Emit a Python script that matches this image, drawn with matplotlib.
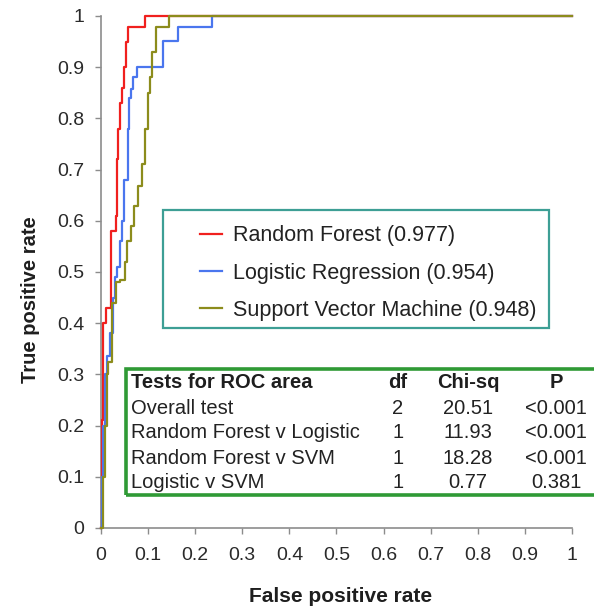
import matplotlib
matplotlib.use("Agg")
import matplotlib.pyplot as plt
from matplotlib.patches import Rectangle

# ROC curves: corners of each step (x of the vertical rise, top of the rise)
rf_fpr = [0.0, 0.002, 0.004, 0.010, 0.022, 0.032, 0.034, 0.036, 0.040, 0.045, 0.049, 0.053, 0.057, 0.093, 1.0]
rf_tpr = [0.0, 0.21, 0.40, 0.43, 0.58, 0.61, 0.72, 0.78, 0.83, 0.86, 0.90, 0.95, 0.978, 1.0, 1.0]

lr_fpr = [0.0, 0.002, 0.004, 0.008, 0.013, 0.019, 0.025, 0.030, 0.034, 0.040, 0.045, 0.049, 0.057, 0.059, 0.064, 0.068, 0.076, 0.132, 0.163, 0.236, 1.0]
lr_tpr = [0.0, 0.10, 0.20, 0.30, 0.335, 0.38, 0.45, 0.49, 0.51, 0.56, 0.60, 0.68, 0.78, 0.84, 0.857, 0.88, 0.90, 0.951, 0.978, 1.0, 1.0]

svm_fpr = [0.0, 0.004, 0.008, 0.012, 0.015, 0.023, 0.032, 0.040, 0.051, 0.055, 0.064, 0.070, 0.079, 0.087, 0.094, 0.100, 0.104, 0.108, 0.117, 0.144, 1.0]
svm_tpr = [0.0, 0.10, 0.20, 0.30, 0.325, 0.44, 0.48, 0.485, 0.52, 0.56, 0.59, 0.628, 0.667, 0.71, 0.78, 0.85, 0.88, 0.93, 0.978, 1.0, 1.0]

model_names = ["Random Forest", "Logistic Regression", "Support Vector Machine"]
model_auc = ["0.977", "0.954", "0.948"]
model_colors = ["#f0201e", "#4a76ee", "#8c8c1c"]

tick_values = [0, 0.1, 0.2, 0.3, 0.4, 0.5, 0.6, 0.7, 0.8, 0.9, 1]
tick_labels = ["0", "0.1", "0.2", "0.3", "0.4", "0.5", "0.6", "0.7", "0.8", "0.9", "1"]

table_header = ["Tests for ROC area", "df", "Chi-sq", "P"]
test_names = ["Overall test", "Random Forest v Logistic", "Random Forest v SVM", "Logistic v SVM"]
test_df = ["2", "1", "1", "1"]
test_chisq = ["20.51", "11.93", "18.28", "0.77"]
test_p = ["<0.001", "<0.001", "<0.001", "0.381"]

plt.rcParams["font.family"] = ["Liberation Sans", "DejaVu Sans"]

W, H = 594, 609
fig = plt.figure(figsize=(W / 100, H / 100), dpi=100)
fig.patch.set_facecolor("white")


def fx(px):
    return px / W


def fy(py):
    return 1 - py / H


AX_L, AX_R, AX_T, AX_B = 101, 572, 16, 528
ax = fig.add_axes([fx(AX_L), fy(AX_B), fx(AX_R) - fx(AX_L), fy(AX_T) - fy(AX_B)])
ax.set_xlim(0, 1)
ax.set_ylim(0, 1)


def ax_x(px):
    return (px - AX_L) / (AX_R - AX_L)


def ax_y(py):
    return (AX_B - py) / (AX_B - AX_T)


curves = [(rf_fpr, rf_tpr), (lr_fpr, lr_tpr), (svm_fpr, svm_tpr)]
handles = []
for (xs, ys), name, auc, col in zip(curves, model_names, model_auc, model_colors):
    h, = ax.plot(xs, ys, drawstyle="steps-post", color=col, lw=1.6,
                 clip_on=False, label=f"{name} ({auc})", zorder=3)
    handles.append(h)

for side in ("top", "right"):
    ax.spines[side].set_visible(False)
for side in ("left", "bottom"):
    ax.spines[side].set_color("#8c8c8c")
    ax.spines[side].set_linewidth(1.2)

ax.set_xticks(tick_values)
ax.set_xticklabels(tick_labels)
ax.set_yticks(tick_values)
ax.set_yticklabels(tick_labels)
ax.tick_params(axis="both", direction="out", length=4.5, width=1.0, color="#8c8c8c",
               labelsize=14, labelcolor="#2a2a2a")
ax.tick_params(axis="x", pad=9)
ax.tick_params(axis="y", pad=7.5)

ax.set_xlabel("False positive rate", fontsize=15, fontweight="bold", color="#1e1e1e")
ax.set_ylabel("True positive rate", fontsize=14.5, fontweight="bold", color="#1e1e1e")
ax.xaxis.label.set_verticalalignment("center")
ax.yaxis.label.set_verticalalignment("center")
ax.xaxis.set_label_coords(ax_x(341), ax_y(596))
ax.yaxis.set_label_coords(ax_x(30), ax_y(300))

# legend box
fig.patches.append(Rectangle((fx(163), fy(328)), fx(549) - fx(163), fy(210) - fy(328),
                             transform=fig.transFigure, fill=False,
                             edgecolor="#3d9f95", lw=1.6, zorder=5))
leg = fig.legend(handles=handles, loc="center left", bbox_to_anchor=(fx(200), fy(273)),
                 frameon=False, prop={"size": 15.5},
                 handlelength=1.0, handletextpad=0.55, labelspacing=0.76,
                 borderpad=0, borderaxespad=0)
for t in leg.get_texts():
    t.set_color("#222222")

# table of comparisons
fig.patches.append(Rectangle((fx(126), fy(495)), fx(600) - fx(126), fy(369) - fy(495),
                             transform=fig.transFigure, fill=False,
                             edgecolor="#2f9a35", lw=2.6, zorder=5, clip_on=False))
row_y = [382, 408, 433, 458, 483]
col_x = [131, 398, 468, 556]
fs = 14.5
fig.text(fx(col_x[0]), fy(row_y[0]), table_header[0], ha="left", va="center",
         fontsize=fs, fontweight="bold", color="#1e1e1e")
for cx, txt in zip(col_x[1:], table_header[1:]):
    fig.text(fx(cx), fy(row_y[0]), txt, ha="center", va="center",
             fontsize=fs, fontweight="bold", color="#1e1e1e")
for i, ry in enumerate(row_y[1:]):
    fig.text(fx(col_x[0]), fy(ry), test_names[i], ha="left", va="center", fontsize=fs, color="#222222")
    fig.text(fx(col_x[1]), fy(ry), test_df[i], ha="center", va="center", fontsize=fs, color="#222222")
    fig.text(fx(col_x[2]), fy(ry), test_chisq[i], ha="center", va="center", fontsize=fs, color="#222222")
    fig.text(fx(col_x[3]), fy(ry), test_p[i], ha="center", va="center", fontsize=fs, color="#222222")

fig.savefig("out.png", dpi=100, facecolor="white")
